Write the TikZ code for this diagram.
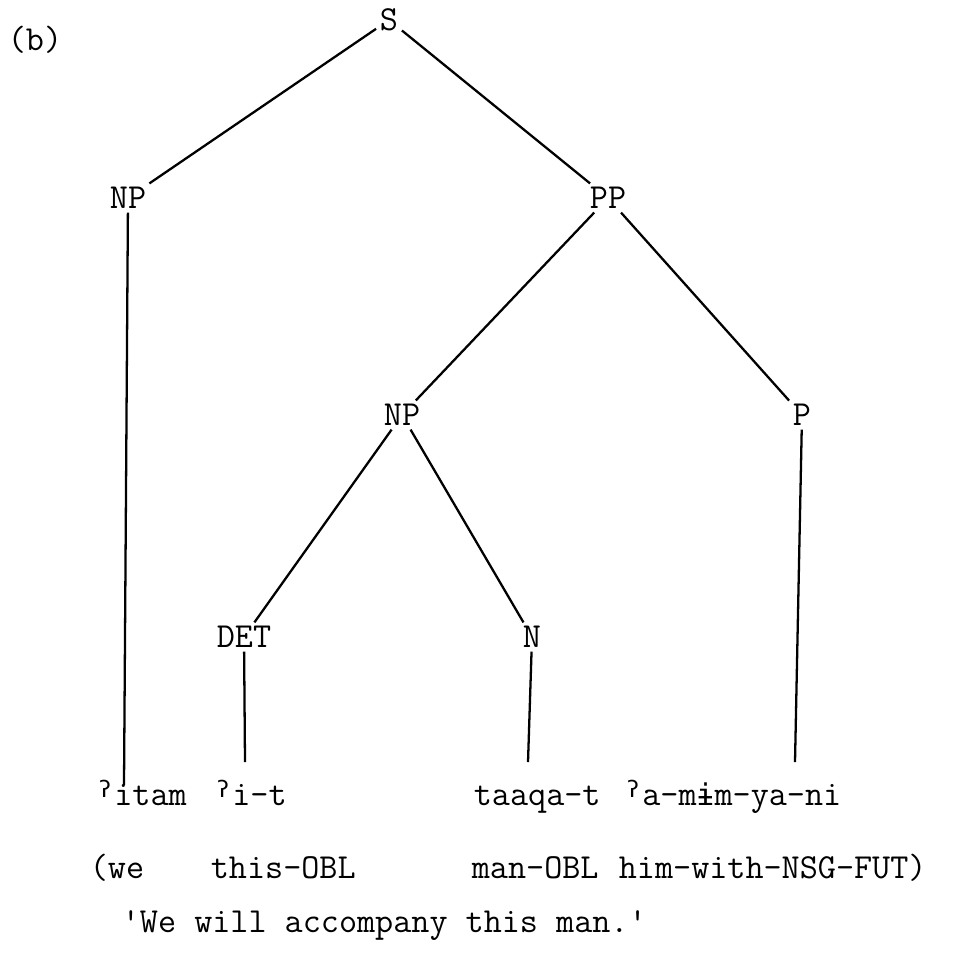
\documentclass[tikz,border=0pt]{standalone}
\usepackage{fontspec}
\newfontfamily\tw{Latin Modern Mono}
\newfontfamily\ipafont{DejaVu Sans Mono}
\usepackage{tikz}
\usetikzlibrary{positioning}
\newcommand{\glot}{\makebox[10.5pt][c]{\raisebox{.5ex}{\ipafont\fontsize{13}{13}\selectfont ʔ}}}
\newcommand{\bari}{{\ipafont\fontsize{17}{20}\selectfont ɨ}}
\tikzset{
	-,
	cat/.style={inner sep=2pt, font=\tw\fontsize{20}{24}\selectfont},
	word/.style={anchor=base west, inner sep=2pt, font=\tw\fontsize{20}{24}\selectfont},
	branch/.style={line width=1.3pt},
}

\begin{document}
\begin{tikzpicture}[
            x=0.02cm,
            y=-0.02cm
        ]
        \useasboundingbox (0,0) rectangle (979,954);
        \node[word] (tag) at (4,50) {(b)};
        \node[cat] (s) at (389,20) {S};
        \node[cat] (np1) at (128,198) {NP};
        \node[cat] (pp) at (608,198) {PP};
        \node[cat] (np2) at (402,415) {NP};
        \node[cat] (p) at (802,415) {P};
        \node[cat] (det) at (244,637) {DET};
        \node[cat] (n) at (532,637) {N};

        \node[word] (w1) at (92,805) {\glot itam};
        \node[word] (w2) at (210,805) {\glot i-t};
        \node[word] (w3) at (470,805) {taaqa-t};
        \node[word] (w4) at (620,805) {\glot a-m\bari m-ya-ni};

        \node[word] (g1) at (86,878) {(we};
        \node[word] (g2) at (207,878) {this-OBL};
        \node[word] (g3) at (468,878) {man-OBL};
        \node[word] (g4) at (615,878) {him-with-NSG-FUT)};

        \node[word] (tr) at (118,932) {'We will accompany this man.'};

        \coordinate (e1) at (124,785);
        \coordinate (e2) at (245,762);
        \coordinate (e3) at (528,762);
        \coordinate (e4) at (795,762);

        \draw[branch] (s) -- (np1);
        \draw[branch] (s) -- (pp);
        \draw[branch] (pp) -- (np2);
        \draw[branch] (pp) -- (p);
        \draw[branch] (np2) -- (det);
        \draw[branch] (np2) -- (n);
        \draw[branch] (np1) -- (e1);
        \draw[branch] (det) -- (e2);
        \draw[branch] (n) -- (e3);
        \draw[branch] (p) -- (e4);
    \end{tikzpicture}
\end{document}
